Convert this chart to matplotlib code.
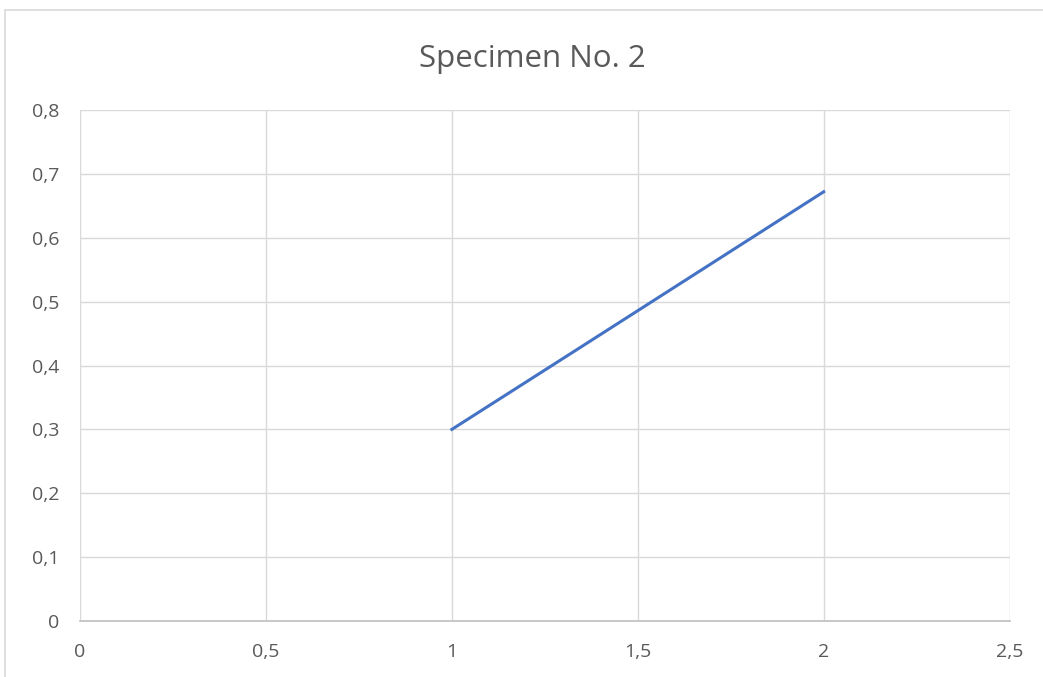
import matplotlib.pyplot as plt
from matplotlib.patches import Rectangle
from matplotlib.ticker import FuncFormatter

# measured points for specimen 2
x_vals = [1.0, 1.35, 2.0]
y_vals = [0.30, 0.43, 0.672]

x_ticks = [0, 0.5, 1, 1.5, 2, 2.5]
y_ticks = [0, 0.1, 0.2, 0.3, 0.4, 0.5, 0.6, 0.7, 0.8]

plt.rcParams['font.family'] = ['Open Sans', 'DejaVu Sans']

fig = plt.figure(figsize=(10.43, 6.77), dpi=100)
ax = fig.add_axes([0.0767, 0.0827, 0.8913, 0.7548])

# chart frame
fig.patches.append(Rectangle((5 / 1043, -0.1), 1.2, 1 - 10 / 677 + 0.1,
                             transform=fig.transFigure, fill=False,
                             edgecolor='#d9d9d9', linewidth=1.2))

ax.plot(x_vals, y_vals, color='#4472C4', linewidth=2.2)

ax.set_xlim(0, 2.5)
ax.set_ylim(0, 0.8)
ax.set_xticks(x_ticks)
ax.set_yticks(y_ticks)

comma = FuncFormatter(lambda v, p: ('%g' % round(v, 2)).replace('.', ','))
ax.xaxis.set_major_formatter(comma)
ax.yaxis.set_major_formatter(comma)

ax.grid(True, color='#d9d9d9', linewidth=1)
ax.set_axisbelow(True)
for side in ['top', 'right', 'left']:
    ax.spines[side].set_visible(False)
ax.spines['bottom'].set_color('#bfbfbf')
ax.spines['bottom'].set_linewidth(1.2)

ax.tick_params(axis='both', length=0, labelsize=14, labelcolor='#595959')
ax.tick_params(axis='x', pad=16)
ax.tick_params(axis='y', pad=15)

fig.text(532 / 1043, 1 - 67 / 677, 'Specimen No. 2', ha='center', va='baseline',
         fontsize=22.5, color='#595959')

fig.savefig('out.png', dpi=100)
